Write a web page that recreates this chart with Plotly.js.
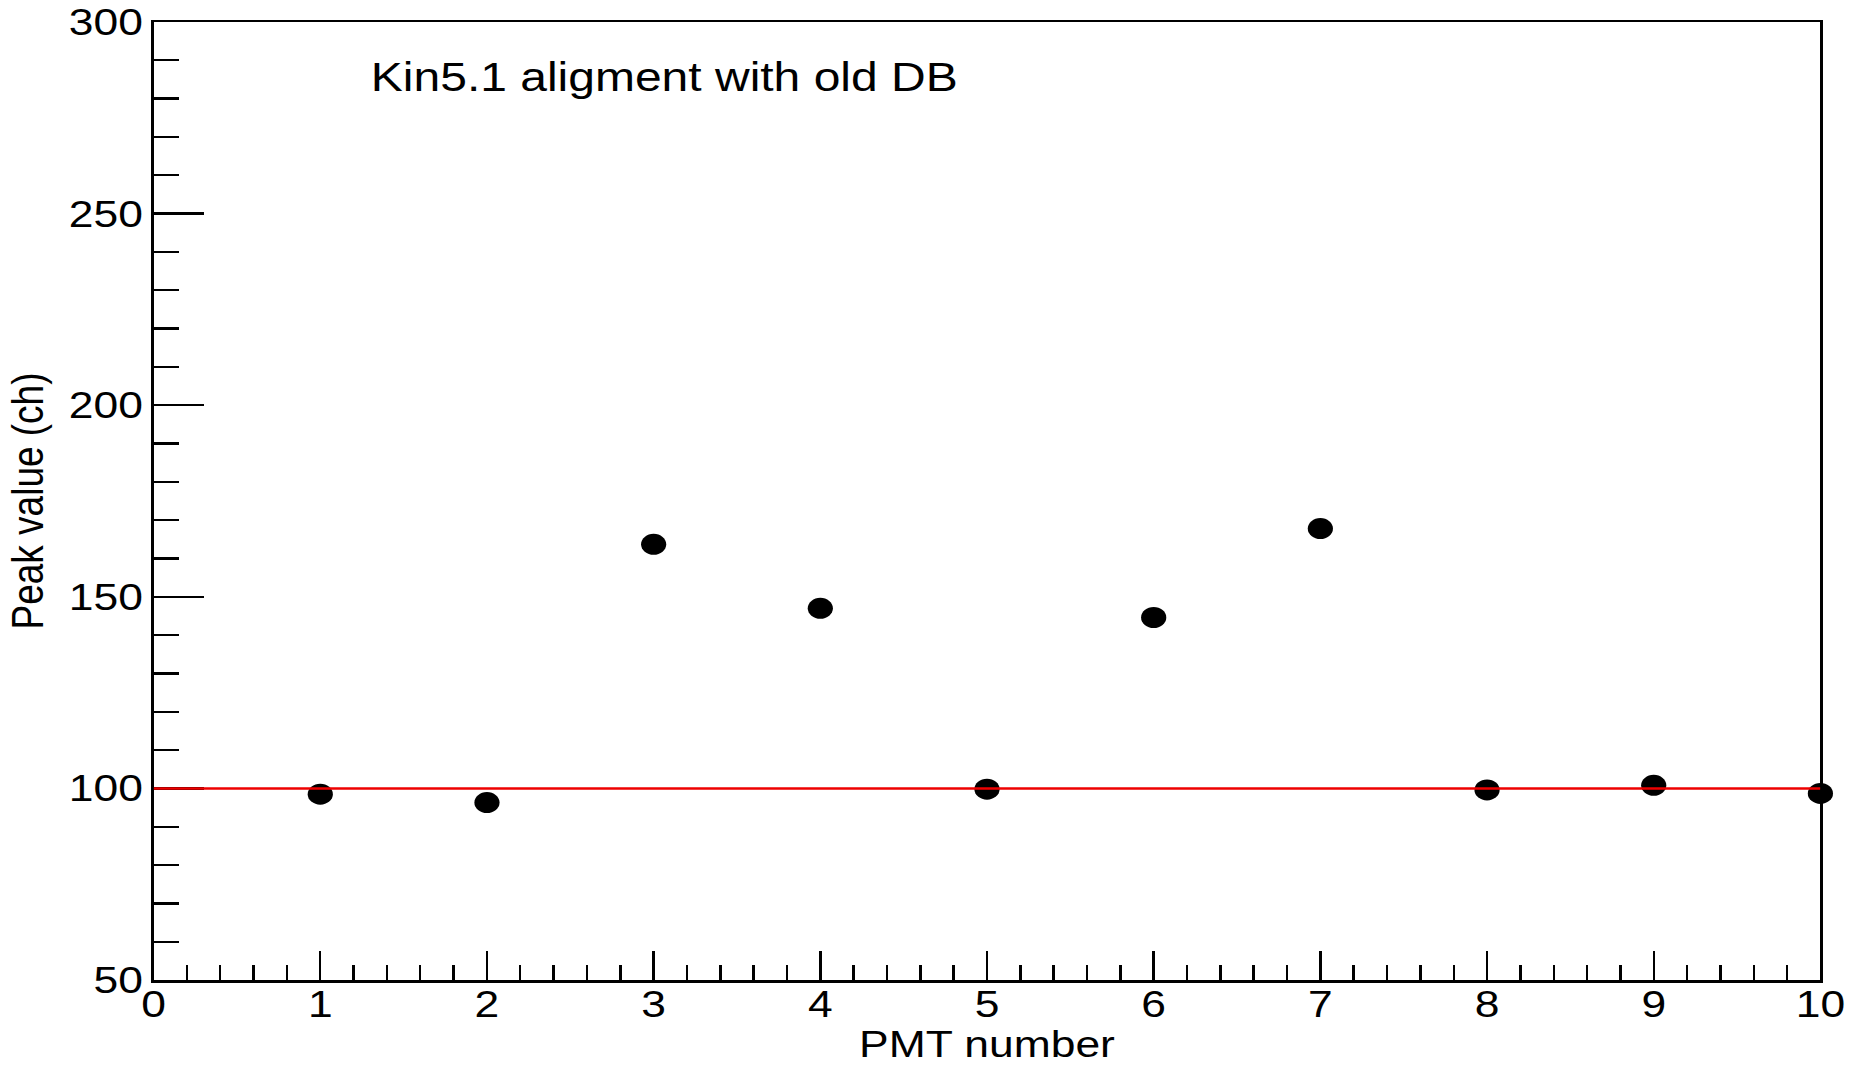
<!DOCTYPE html>
<html>
<head>
<meta charset="utf-8">
<script src="https://cdn.plot.ly/plotly-3.0.1.min.js"></script>
<style>
  html, body { margin: 0; padding: 0; background: #fff; overflow: hidden; }
  #chart { width: 1552.5px; height: 1065px; transform: scaleX(1.2); transform-origin: 0 0; }
</style>
</head>
<body>
<div id="chart"></div>
<script>
// Data
const pmtNumber = [1, 2, 3, 4, 5, 6, 7, 8, 9, 10];
const peakValue = [98.5, 96.3, 163.7, 147.0, 99.8, 144.6, 167.8, 99.6, 100.8, 98.7];
const refLineX = [0, 10];
const refLineY = [100, 100];
const xTickVals = [0, 1, 2, 3, 4, 5, 6, 7, 8, 9, 10];
const yTickVals = [50, 100, 150, 200, 250, 300];
const labelText = "Kin5.1 aligment with old DB";
const xTitle = "PMT number";
const yTitle = "Peak value (ch)";

const FONT = "Liberation Sans, Arial, Helvetica, sans-serif";

const traces = [
  {
    x: pmtNumber, y: peakValue, type: "scatter", mode: "markers",
    marker: { color: "#000", size: 21, line: { width: 0 } },
    cliponaxis: false, showlegend: false, hoverinfo: "skip"
  },
  {
    x: refLineX, y: refLineY, type: "scatter", mode: "lines",
    line: { color: "#ee0000", width: 2.5 },
    cliponaxis: false, showlegend: false, hoverinfo: "skip"
  }
];

const layout = {
  width: 1552.5, height: 1065,
  margin: { l: 128.3, r: 36, t: 22, b: 85 },
  paper_bgcolor: "#fff", plot_bgcolor: "#fff",
  font: { family: FONT, color: "#000", size: 37 },
  showlegend: false,
  xaxis: {
    range: [0, 10], tickvals: xTickVals, ticktext: xTickVals.map(String),
    showgrid: false, zeroline: false,
    showline: true, linecolor: "#000", linewidth: 2.5, mirror: true,
    ticks: "inside", ticklen: 29, tickwidth: 2, tickcolor: "#000",
    minor: { dtick: 0.2, ticks: "inside", ticklen: 15, tickwidth: 2, tickcolor: "#000", showgrid: false },
    tickfont: { family: FONT, size: 37, color: "#000" },
    ticklabelstandoff: -10,
    layer: "below traces",
    title: { text: xTitle, font: { family: FONT, size: 37, color: "#000" }, standoff: 9 },
    automargin: false, fixedrange: true
  },
  yaxis: {
    range: [50, 300], tickvals: yTickVals, ticktext: yTickVals.map(String),
    showgrid: false, zeroline: false,
    showline: true, linecolor: "#000", linewidth: 2.5, mirror: true,
    ticks: "inside", ticklen: 41.7, tickwidth: 2.3, tickcolor: "#000",
    minor: { dtick: 10, ticks: "inside", ticklen: 21, tickwidth: 2.3, tickcolor: "#000", showgrid: false },
    tickfont: { family: FONT, size: 37, color: "#000" },
    ticklabelstandoff: -1,
    layer: "below traces",
    title: { text: yTitle, font: { family: FONT, size: 37, color: "#000" }, standoff: 10 },
    automargin: false, fixedrange: true
  },
  annotations: [
    {
      text: labelText, xref: "paper", yref: "paper", x: 0.129, y: 0.9426,
      xanchor: "left", yanchor: "middle", showarrow: false,
      font: { family: FONT, size: 40, color: "#000" }
    }
  ]
};

Plotly.newPlot("chart", traces, layout, { staticPlot: true, displayModeBar: false });
</script>
</body>
</html>
